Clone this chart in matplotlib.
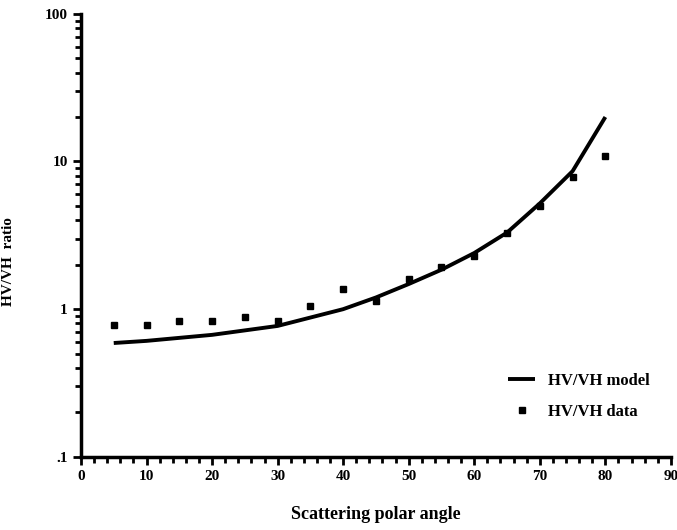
import matplotlib
matplotlib.use("Agg")
import matplotlib.pyplot as plt
from matplotlib.ticker import FixedLocator, MultipleLocator, LogLocator, NullFormatter

data_angle = [5, 10, 15, 20, 25, 30, 35, 40, 45, 50, 55, 60, 65, 70, 75, 80]
data_ratio = [0.78, 0.78, 0.83, 0.83, 0.88, 0.83, 1.05, 1.37, 1.13, 1.6, 1.93, 2.3, 3.27, 5.0, 7.8, 10.9]

model_angle = [5, 10, 20, 30, 40, 45, 50, 55, 60, 65, 70, 75, 80]
model_ratio = [0.59, 0.61, 0.67, 0.77, 1.0, 1.2, 1.48, 1.85, 2.4, 3.3, 5.2, 8.6, 20.0]

yticks = [0.1, 1, 10, 100]
ytick_labels = [".1", "1", "10", "100"]
xticks = [0, 10, 20, 30, 40, 50, 60, 70, 80, 90]

plt.rcParams['font.family'] = ['Liberation Serif', 'DejaVu Serif']
plt.rcParams['font.weight'] = 'bold'

fig = plt.figure(figsize=(6.77, 5.30), dpi=100)
ax = fig.add_axes([0.1196, 0.138, 0.8714, 0.836])

ax.plot(model_angle, model_ratio, color='black', lw=2.8, solid_capstyle='butt', label='HV/VH model')
ax.plot(data_angle, data_ratio, 's', color='black', ms=5, label='HV/VH data')

ax.set_yscale('log')
ax.set_xlim(0, 90)
ax.set_ylim(0.1, 100)
ax.yaxis.set_major_locator(FixedLocator(yticks))
ax.set_yticklabels(ytick_labels)
ax.yaxis.set_minor_locator(LogLocator(base=10, subs=range(2, 10)))
ax.yaxis.set_minor_formatter(NullFormatter())
ax.xaxis.set_major_locator(FixedLocator(xticks))
ax.xaxis.set_minor_locator(MultipleLocator(2))

for s in ['top', 'right']:
    ax.spines[s].set_visible(False)
for s in ['left', 'bottom']:
    ax.spines[s].set_linewidth(2.5)

ax.tick_params(which='major', direction='out', length=6, width=2, labelsize=11)
ax.tick_params(which='minor', direction='out', length=4, width=2)

ax.set_xlabel('Scattering polar angle', fontsize=13, fontweight='bold')
ax.set_ylabel('HV/VH  ratio', fontsize=11, fontweight='bold')
ax.yaxis.set_label_coords(-0.112, 0.44)
ax.xaxis.set_label_coords(0.5, -0.11)

leg = ax.legend(loc='lower right', bbox_to_anchor=(0.99, 0.05), frameon=False,
                handlelength=1.6, handletextpad=0.8, labelspacing=0.9,
                prop={'weight': 'bold', 'size': 12})

fig.savefig('out.png', dpi=100)
